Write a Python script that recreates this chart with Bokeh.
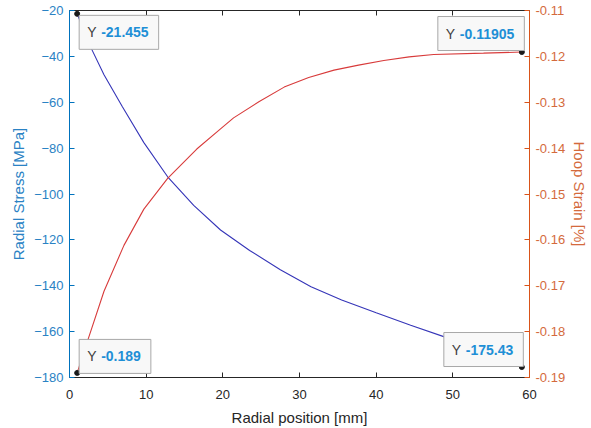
from bokeh.plotting import figure
from bokeh.models import Range1d, LinearAxis, FixedTicker, Label
from bokeh.embed import file_html
from bokeh.resources import INLINE

# ---------------- data ----------------
x_stress = [1, 2.65, 4.5, 6.9, 9.7, 12.8, 16.2, 19.7, 23.5, 27.5, 31.5, 35.5, 40, 44.5, 49, 54, 59]
radial_stress = [-21.455, -35.2, -48.0, -62.0, -77.6, -92.5, -105.0, -115.7, -124.6, -133.0,
                 -140.4, -146.2, -151.8, -157.2, -162.4, -168.6, -175.43]

x_strain = [1, 2.4, 4.5, 7.1, 9.7, 12.8, 16.6, 19.7, 21.4, 24.7, 28, 31.2, 34.5, 37.7, 41, 44.3, 47.5, 54, 59]
hoop_strain = [-0.189, -0.1818, -0.1712, -0.1612, -0.1533, -0.1466, -0.1402, -0.1358, -0.1334, -0.1299,
               -0.1267, -0.1246, -0.1230, -0.1219, -0.1209, -0.1201, -0.1196, -0.1193, -0.11905]

x_ticks = [0, 10, 20, 30, 40, 50, 60]
stress_ticks = [-180, -160, -140, -120, -100, -80, -60, -40, -20]
strain_ticks = [-0.19, -0.18, -0.17, -0.16, -0.15, -0.14, -0.13, -0.12, -0.11]
strain_tick_labels = ["-0.19", "-0.18", "-0.17", "-0.16", "-0.15", "-0.14", "-0.13", "-0.12", "-0.11"]

# data tips: x, y, shown value, axis
tip_x = [1, 59, 1, 59]
tip_y = [-21.455, -0.11905, -0.189, -175.43]
tip_text = ["-21.455", "-0.11905", "-0.189", "-175.43"]
tip_axis = ["stress", "strain", "strain", "stress"]

# ---------------- styles ----------------
FONT = "Liberation Sans"
BLUE_AX = "#0072BD"
BLUE_TXT = "#2a82c4"
ORANGE_AX = "#D95319"
ORANGE_TXT = "#d46a3c"
DARK = "#262626"

W, H = 591, 428
BL, BR, BT, BB = 69, 62, 10, 50
x_range = Range1d(0, 60)
p = figure(width=W, height=H, x_range=x_range, y_range=Range1d(-180, -20),
           output_backend="svg", toolbar_location=None,
           min_border_left=BL, min_border_right=BR, min_border_top=BT, min_border_bottom=BB)
strain_range = Range1d(-0.19, -0.11)
p.extra_y_ranges = {"strain": strain_range}
p.outline_line_color = None
p.xgrid.visible = False
p.ygrid.visible = False
p.background_fill_color = "white"
p.border_fill_color = "white"


def style_axis(ax, color, text_color):
    ax.axis_line_color = color
    ax.major_tick_line_color = color
    ax.major_tick_in = 5
    ax.major_tick_out = 0
    ax.minor_tick_in = 0
    ax.minor_tick_out = 0
    ax.major_label_text_color = text_color
    ax.major_label_text_font = FONT
    ax.major_label_text_font_size = "13px"
    ax.axis_label_text_color = text_color
    ax.axis_label_text_font = FONT
    ax.axis_label_text_font_size = "15px"
    ax.axis_label_text_font_style = "normal"


xa = p.xaxis[0]
style_axis(xa, DARK, DARK)
xa.ticker = FixedTicker(ticks=x_ticks)
xa.axis_label = "Radial position [mm]"
xa.major_label_standoff = 12
xa.axis_label_standoff = 7

ya = p.yaxis[0]
style_axis(ya, BLUE_AX, BLUE_TXT)
ya.ticker = FixedTicker(ticks=stress_ticks)
ya.axis_label = "Radial Stress [MPa]"
ya.major_label_standoff = 6
ya.axis_label_standoff = 4

ra = LinearAxis(y_range_name="strain")
style_axis(ra, ORANGE_AX, ORANGE_TXT)
ra.ticker = FixedTicker(ticks=strain_ticks)
ra.major_label_overrides = {t: s for t, s in zip(strain_ticks, strain_tick_labels)}
ra.major_label_standoff = 6
ra.axis_label = "Hoop Strain [%]"
ra.axis_label_standoff = 3
p.add_layout(ra, "right")

# top border with inward ticks, no labels drawn
ta = LinearAxis()
style_axis(ta, DARK, DARK)
ta.ticker = FixedTicker(ticks=x_ticks)
ta.major_label_text_color = None
ta.major_label_text_font_size = "1px"
ta.major_label_standoff = 0
p.add_layout(ta, "above")

p.line(x_stress, radial_stress, line_color="#3535b8", line_width=1.1)
p.line(x_strain, hoop_strain, y_range_name="strain", line_color="#d83b3b", line_width=1.1)

# data tip markers
for tx, ty, ax in zip(tip_x, tip_y, tip_axis):
    kw = {"y_range_name": "strain"} if ax == "strain" else {}
    p.scatter([tx], [ty], size=5, fill_color="#1a1a1a", line_color="#1a1a1a", **kw)

# data tip boxes: (box left, box top) screen offsets from marker, down positive
box_off = [(2, 2), (-84, -35), (2, -33), (-78, -34)]
BOX_H = 33
PAD_L, PAD_R, PAD_V = 22, 10, 12
for (dx, dy), tx, ty, txt, ax in zip(box_off, tip_x, tip_y, tip_text, tip_axis):
    rn = "strain" if ax == "strain" else "default"
    cy = -(dy + BOX_H / 2)
    box = Label(x=tx, y=ty, y_range_name=rn, text=txt, x_offset=dx, y_offset=cy,
                text_align="left", text_baseline="middle",
                text_font=FONT, text_font_size="14px", text_font_style="bold",
                text_color="#1e8fd6",
                background_fill_color="#f8f8f8", border_line_color="#a8a8a8",
                border_line_width=1,
                padding=dict(left=PAD_L, right=PAD_R, top=PAD_V, bottom=PAD_V))
    p.add_layout(box)
    ylab = Label(x=tx, y=ty, y_range_name=rn, text="Y", x_offset=dx + 8, y_offset=cy,
                 text_align="left", text_baseline="middle",
                 text_font=FONT, text_font_size="14px", text_color="#404040")
    p.add_layout(ylab)

open("out.html", "w").write(file_html(p, INLINE))
